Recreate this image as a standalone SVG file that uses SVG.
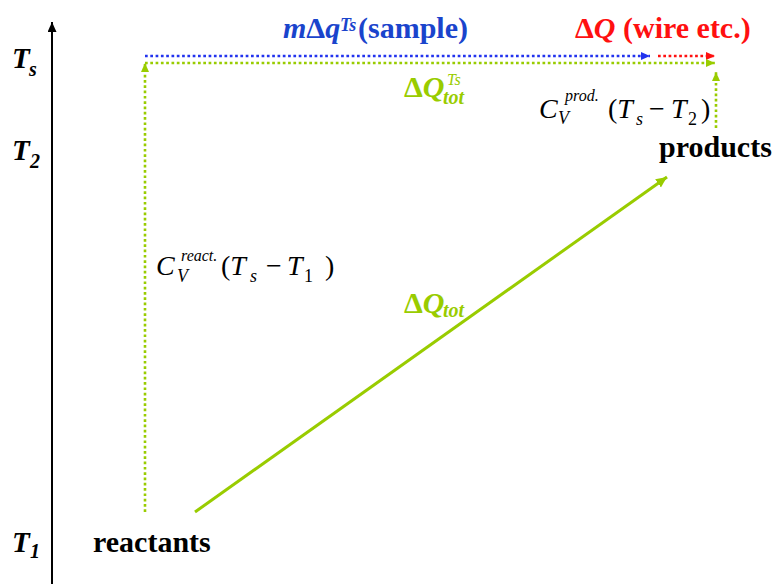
<svg xmlns="http://www.w3.org/2000/svg" width="776" height="584" viewBox="0 0 776 584">
<defs>
<style>
text{font-family:"Liberation Serif","Times New Roman",serif;}
.b{font-weight:bold;}
.i{font-style:italic;}
.n{font-style:normal;}
.dot{fill:none;stroke-width:2.6;stroke-dasharray:2.7 2.6;}
</style>
<marker id="ak" markerUnits="userSpaceOnUse" markerWidth="10" markerHeight="10" refX="10" refY="4.5" orient="auto"><path d="M0,0 L10,4.5 L0,9 z" fill="#000"/></marker>
<marker id="ab" markerUnits="userSpaceOnUse" markerWidth="10" markerHeight="10" refX="9" refY="4" orient="auto"><path d="M0,0 L9,4 L0,8 z" fill="#2233ee"/></marker>
<marker id="ar" markerUnits="userSpaceOnUse" markerWidth="10" markerHeight="10" refX="9" refY="4" orient="auto"><path d="M0,0 L9,4 L0,8 z" fill="#ff1010"/></marker>
<marker id="ag" markerUnits="userSpaceOnUse" markerWidth="10" markerHeight="10" refX="9" refY="4" orient="auto"><path d="M0,0 L9,4 L0,8 z" fill="#99cc00"/></marker>
<marker id="ag2" markerUnits="userSpaceOnUse" markerWidth="12" markerHeight="12" refX="11" refY="5" orient="auto"><path d="M0,0 L11,5 L0,10 z" fill="#99cc00"/></marker>
</defs>
<rect width="776" height="584" fill="#fff"/>

<g id="connectors">
<line x1="52" y1="584" x2="52" y2="22" stroke="#000" stroke-width="2" marker-end="url(#ak)"/>
<line class="dot" x1="145" y1="56" x2="650" y2="56" stroke="#2233ee" marker-end="url(#ab)"/>
<line class="dot" x1="658" y1="56" x2="715" y2="56" stroke="#ff1010" marker-end="url(#ar)"/>
<line class="dot" x1="145" y1="63" x2="715" y2="63" stroke="#99cc00" marker-end="url(#ag)"/>
<line class="dot" x1="145" y1="512" x2="145" y2="63" stroke="#99cc00" marker-end="url(#ag)"/>
<line class="dot" x1="716" y1="128" x2="716" y2="72" stroke="#99cc00" marker-end="url(#ag)"/>
<line x1="195" y1="512" x2="667" y2="177" stroke="#99cc00" stroke-width="3" marker-end="url(#ag2)"/>
</g>

<g id="axis-labels" fill="#000">
<text class="b i" x="12" y="68" font-size="29">T</text>
<text class="b i" x="29" y="76" font-size="20">s</text>
<text class="b i" x="12" y="160" font-size="29">T</text>
<text class="b i" x="30" y="168" font-size="20">2</text>
<text class="b i" x="12" y="552" font-size="29">T</text>
<text class="b i" x="30" y="558" font-size="20">1</text>
</g>

<g id="reactants">
<text class="b" x="93" y="552" font-size="30" fill="#000">reactants</text>
</g>

<g id="products">
<text class="b" x="659" y="157" font-size="30" fill="#000">products</text>
</g>

<g id="sample-label" fill="#1a44cc">
<text class="b" x="283" y="38" font-size="30"><tspan class="i">m</tspan>Δ<tspan class="i">q</tspan></text>
<text class="b i" x="340" y="31" font-size="18">Ts</text>
<text class="b" x="358" y="38" font-size="30">(sample)</text>
</g>

<g id="wire-label" fill="#ff1010">
<text class="b" x="575" y="38" font-size="30">Δ<tspan class="i">Q</tspan> (wire etc.)</text>
</g>

<g id="dQtot-Ts" fill="#99cc00">
<text class="b" x="404" y="97" font-size="30">Δ<tspan class="i">Q</tspan></text>
<text class="b i" x="443" y="104" font-size="20">tot</text>
<text class="i" x="447" y="85" font-size="16">Ts</text>
</g>

<g id="dQtot" fill="#99cc00">
<text class="b" x="404" y="313" font-size="30">Δ<tspan class="i">Q</tspan></text>
<text class="b i" x="443" y="317" font-size="20">tot</text>
</g>

<g id="cv-react" fill="#000">
<text class="i" x="156" y="275" font-size="28">C</text>
<text class="i" x="177" y="282" font-size="18">V</text>
<text class="i" x="181" y="261" font-size="16">react.</text>
<text x="221" y="275" font-size="28">(<tspan class="i">T</tspan></text>
<text class="i" x="250" y="282" font-size="18">s</text>
<text x="266" y="275" font-size="28">−</text>
<text class="i" x="287" y="275" font-size="28">T</text>
<text x="304" y="282" font-size="18">1</text>
<text x="325" y="275" font-size="28">)</text>
</g>

<g id="cv-prod" fill="#000">
<text class="i" x="539" y="118" font-size="28">C</text>
<text class="i" x="558" y="124" font-size="18">V</text>
<text class="i" x="565" y="101" font-size="16">prod.</text>
<text x="608" y="118" font-size="28">(<tspan class="i">T</tspan></text>
<text class="i" x="636" y="125" font-size="18">s</text>
<text x="649" y="118" font-size="28">−</text>
<text class="i" x="671" y="118" font-size="28">T</text>
<text x="688" y="125" font-size="18">2</text>
<text x="701" y="118" font-size="28">)</text>
</g>
</svg>
